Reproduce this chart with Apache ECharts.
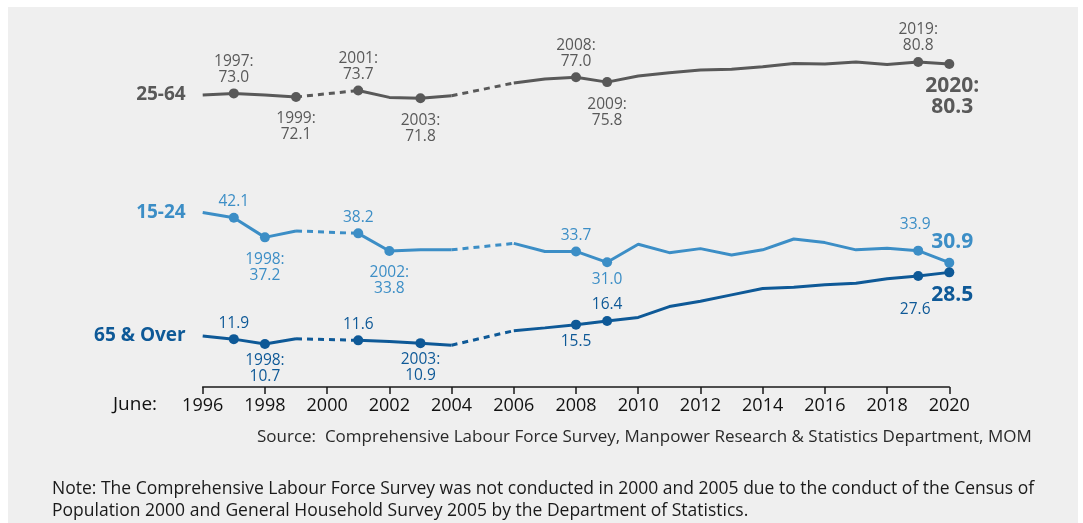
<!DOCTYPE html>
<html>
<head>
<meta charset="utf-8">
<script src="https://cdn.jsdelivr.net/npm/echarts@6/dist/echarts.min.js"></script>
<style>
  html, body { margin: 0; padding: 0; background: #ffffff; }
  #panel { position: absolute; left: 8px; top: 7px; width: 1070px; height: 516px; background: #efefef; }
  #chart { position: absolute; left: 0; top: 0; width: 1083px; height: 523px; }
</style>
</head>
<body>
<div id="panel"></div>
<div id="chart"></div>
<script>
// ---- Data ----
const years = [1996,1997,1998,1999,2000,2001,2002,2003,2004,2005,2006,2007,2008,2009,2010,2011,2012,2013,2014,2015,2016,2017,2018,2019,2020];
const age2564 = [72.6,73.0,72.6,72.1,null,73.7,72.0,71.8,72.4,null,75.6,76.6,77.0,75.8,77.3,78.1,78.8,79.0,79.6,80.4,80.3,80.8,80.2,80.8,80.3];
const age1524 = [43.4,42.1,37.2,38.8,null,38.2,33.8,34.1,34.1,null,35.7,33.7,33.7,31.0,35.5,33.4,34.4,32.8,34.1,36.8,35.9,34.1,34.5,33.9,30.9];
const age65 = [12.7,11.9,10.7,12.0,null,11.6,11.3,10.9,10.4,null,14.0,14.7,15.5,16.4,17.3,20.0,21.3,22.9,24.5,24.8,25.4,25.8,26.9,27.6,28.5];
const seriesNames = ['25-64', '15-24', '65 & Over'];
const xTickLabels = ['1996','1998','2000','2002','2004','2006','2008','2010','2012','2014','2016','2018','2020'];

// Annotated points: [year, placement, showYear]
const marks2564 = [[1997,'top',true],[1999,'bottom',true],[2001,'top',true],[2003,'bottom',true],[2008,'top',true],[2009,'bottom',true],[2019,'top',true],[2020,'bottomBold',true]];
const marks1524 = [[1997,'top',false],[1998,'bottom',true],[2001,'top',false],[2002,'bottom',true],[2008,'top',false],[2009,'bottomNear',false],[2019,'topFar',false],[2020,'topBold',false]];
const marks65 = [[1997,'top',false],[1998,'bottomTight',true],[2001,'top',false],[2003,'bottomTight',true],[2008,'bottomNear',false],[2009,'top',false],[2019,'bottomFar',false],[2020,'bottomBold',false]];

const FONT = '"Open Sans", "Noto Sans", sans-serif';
const colors = ['#595959', '#3c8ec6', '#0e5997'];

function labelFor(place, showYear, year, value, color) {
  const txt = (showYear ? year + ':\n' : '') + value.toFixed(1);
  const base = { show: true, formatter: txt, color: color, fontFamily: FONT, fontSize: 15.5, lineHeight: 16, distance: 3, align: 'center' };
  if (place === 'top') return Object.assign(base, { position: 'top' });
  if (place === 'bottom') return Object.assign(base, { position: 'bottom', distance: 9 });
  if (place === 'bottomTight') return Object.assign(base, { position: 'bottom', distance: 4, lineHeight: 15.5 });
  if (place === 'bottomNear') return Object.assign(base, { position: 'bottom', distance: 4 });
  if (place === 'topFar') return Object.assign(base, { position: 'top', offset: [-3, -10] });
  if (place === 'bottomFar') return Object.assign(base, { position: 'bottom', offset: [-3, 18] });
  if (place === 'topBold') return Object.assign(base, { position: 'top', fontSize: 21, lineHeight: 21, fontWeight: 'bold', distance: 5, offset: [3, 0] });
  if (place === 'bottomBold') return Object.assign(base, { position: 'bottom', fontSize: 21, lineHeight: 21, fontWeight: 'bold', distance: 7, offset: [3, 0] });
  return base;
}

function buildMain(idx, values, marks) {
  const color = colors[idx];
  const markMap = {};
  marks.forEach(m => { markMap[m[0]] = m; });
  const data = years.map((y, i) => {
    const v = values[i];
    if (v === null) return { value: [y, '-'] };
    const item = { value: [y, v] };
    if (markMap[y]) {
      item.symbolSize = 10;
      item.label = labelFor(markMap[y][1], markMap[y][2], y, v, color);
    }
    if (i === 0) {
      item.label = { show: true, position: 'left', distance: 17, formatter: seriesNames[idx], color: color, fontFamily: FONT, fontSize: 19, fontWeight: 'bold' };
    }
    return item;
  });
  return {
    type: 'line', name: seriesNames[idx], data: data, symbol: 'circle', symbolSize: 0,
    connectNulls: false, smooth: false, silent: true, z: 3,
    lineStyle: { color: color, width: 3 }, itemStyle: { color: color },
    emphasis: { disabled: true }, animation: false
  };
}

function buildGaps(idx, values) {
  const out = [];
  values.forEach((v, i) => {
    if (v === null && i > 0 && i < values.length - 1) {
      out.push({
        type: 'line', data: [[years[i - 1], values[i - 1]], [years[i + 1], values[i + 1]]],
        symbol: 'none', silent: true, z: 2, animation: false,
        lineStyle: { color: colors[idx], width: 3, type: [6, 5] }
      });
    }
  });
  return out;
}

const series = [].concat(
  buildMain(0, age2564, marks2564), buildGaps(0, age2564),
  buildMain(1, age1524, marks1524), buildGaps(1, age1524),
  buildMain(2, age65, marks65), buildGaps(2, age65)
);

const chart = echarts.init(document.getElementById('chart'), null, { renderer: 'canvas' });
chart.setOption({
  animation: false,
  grid: { left: 202.7, right: 133.7, top: 25, bottom: 136 },
  xAxis: {
    type: 'value', min: 1996, max: 2020, interval: 2,
    axisLine: { show: true, lineStyle: { color: '#1a1a1a', width: 1.5 } },
    axisTick: { show: true, length: 7, lineStyle: { color: '#1a1a1a', width: 1.5 } },
    axisLabel: { color: '#111', fontFamily: FONT, fontSize: 18, margin: 10,
      formatter: v => xTickLabels[xTickLabels.indexOf(String(v))] || '' },
    splitLine: { show: false }
  },
  yAxis: { type: 'value', min: 0, max: 90, show: false, splitLine: { show: false } },
  series: series,
  graphic: [
    { type: 'text', left: 113, top: 395, style: { text: 'June:', fill: '#111', font: '19px ' + FONT } },
    { type: 'text', left: 257, top: 429, style: { text: 'Source:  Comprehensive Labour Force Survey, Manpower Research & Statistics Department, MOM', fill: '#2a2a2a', font: '17px ' + FONT } },
    { type: 'text', left: 52, top: 480, style: { text: 'Note: The Comprehensive Labour Force Survey was not conducted in 2000 and 2005 due to the conduct of the Census of', fill: '#1a1a1a', font: '17.5px ' + FONT } },
    { type: 'text', left: 52, top: 502, style: { text: 'Population 2000 and General Household Survey 2005 by the Department of Statistics.', fill: '#1a1a1a', font: '17.5px ' + FONT } }
  ]
});
</script>
</body>
</html>
